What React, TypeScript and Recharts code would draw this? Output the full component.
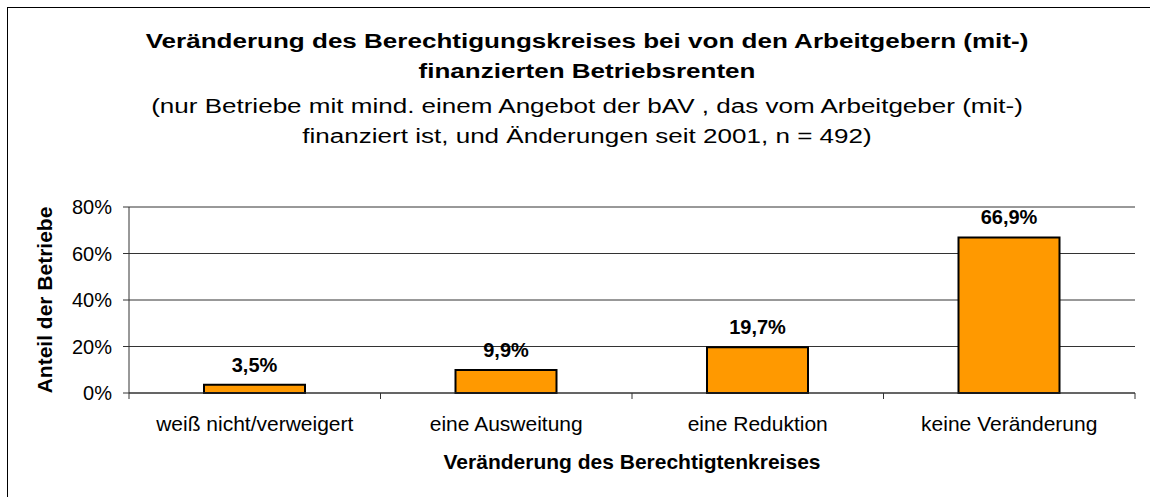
import React from 'react';
import { BarChart, Bar, XAxis, YAxis, CartesianGrid, LabelList, Label } from 'recharts';

const categories = ['weiß nicht/verweigert', 'eine Ausweitung', 'eine Reduktion', 'keine Veränderung'];
const shares = [3.5, 9.9, 19.7, 66.9];
const yTicks = [0, 20, 40, 60, 80];

const titleLines = [
  'Veränderung des Berechtigungskreises bei von den Arbeitgebern (mit-)',
  'finanzierten Betriebsrenten',
];
const subtitleLines = [
  '(nur Betriebe mit mind. einem Angebot der bAV , das vom Arbeitgeber (mit-)',
  'finanziert ist, und Änderungen seit 2001, n = 492)',
];

const data = categories.map((name, i) => ({ name, value: shares[i] }));

const FONT = '"Liberation Sans", Arial, sans-serif';
const TICK_SIZE = 6;
const TICK_MARGIN = 4;
const TITLE_CX = 587;

// category label plus the small tick marks between categories
const CategoryTick = (props: any) => {
  const { x, y, payload, index, width } = props;
  const axisY = y - TICK_SIZE - TICK_MARGIN;
  const half = (width || 1006) / categories.length / 2;
  return (
    <g>
      <line x1={x - half} x2={x - half} y1={axisY} y2={axisY + TICK_SIZE} stroke="#333" />
      {index === categories.length - 1 && (
        <line x1={x + half} x2={x + half} y1={axisY} y2={axisY + TICK_SIZE} stroke="#333" />
      )}
      <text x={x} y={axisY + 38} textAnchor="middle" fontSize={21} fill="#000" fontFamily={FONT}>
        {payload.value}
      </text>
    </g>
  );
};

export default function App() {
  const baselines = [48, 78, 113, 143];
  const lines = [
    ...titleLines.map((t) => ({ t, bold: true })),
    ...subtitleLines.map((t) => ({ t, bold: false })),
  ];
  return (
    <div style={{ position: 'absolute', left: 0, top: 0, width: 1150, height: 497, overflow: 'hidden', background: '#fff', fontFamily: FONT }}>
      <div style={{ position: 'absolute', left: 7, top: 7, width: 1160, height: 500, border: '1px solid #000' }} />
      <svg style={{ position: 'absolute', left: 0, top: 0 }} width={1150} height={160}>
        <g transform={`translate(${TITLE_CX},0) scale(1.24,1)`}>
          {lines.map((l, i) => (
            <text
              key={l.t}
              x={0}
              y={baselines[i]}
              textAnchor="middle"
              fontSize={21}
              fontWeight={l.bold ? 'bold' : 'normal'}
              fontFamily={FONT}
              fill="#000"
            >
              {l.t}
            </text>
          ))}
        </g>
      </svg>
      <div style={{ position: 'absolute', left: 0, top: 0 }}>
        <BarChart width={1150} height={497} data={data} margin={{ top: 207, right: 15, bottom: 0, left: 0 }}>
          <CartesianGrid vertical={false} stroke="#333" />
          <XAxis
            dataKey="name"
            height={104}
            axisLine={{ stroke: '#333' }}
            tickLine={false}
            tickSize={TICK_SIZE}
            tickMargin={TICK_MARGIN}
            tick={<CategoryTick />}
            interval={0}
          >
            <Label
              value="Veränderung des Berechtigtenkreises"
              position="insideBottom"
              offset={28}
              style={{ fontWeight: 'bold', fontSize: 21, fill: '#000', fontFamily: FONT }}
            />
          </XAxis>
          <YAxis
            width={129}
            domain={[0, 80]}
            ticks={yTicks}
            tickFormatter={(v) => `${v}%`}
            axisLine={{ stroke: '#333' }}
            tickLine={{ stroke: '#333' }}
            tickSize={TICK_SIZE}
            tickMargin={11}
            tick={{ fontSize: 20, fill: '#000', fontFamily: FONT }}
          >
            <Label
              value="Anteil der Betriebe"
              angle={-90}
              position="insideLeft"
              offset={45}
              style={{ fontWeight: 'bold', fontSize: 21, fill: '#000', fontFamily: FONT, textAnchor: 'middle' }}
            />
          </YAxis>
          <YAxis
            yAxisId="r"
            orientation="right"
            width={0}
            domain={[0, 80]}
            tick={false}
            tickLine={false}
            axisLine={{ stroke: '#000' }}
          />
          <Bar dataKey="value" fill="#FF9900" stroke="#000" strokeWidth={2} barSize={101} isAnimationActive={false}>
            <LabelList
              dataKey="value"
              position="top"
              offset={13}
              formatter={(v: any) => `${Number(v).toFixed(1).replace('.', ',')}%`}
              style={{ fontWeight: 'bold', fontSize: 20, fill: '#000', fontFamily: FONT }}
            />
          </Bar>
        </BarChart>
      </div>
    </div>
  );
}
